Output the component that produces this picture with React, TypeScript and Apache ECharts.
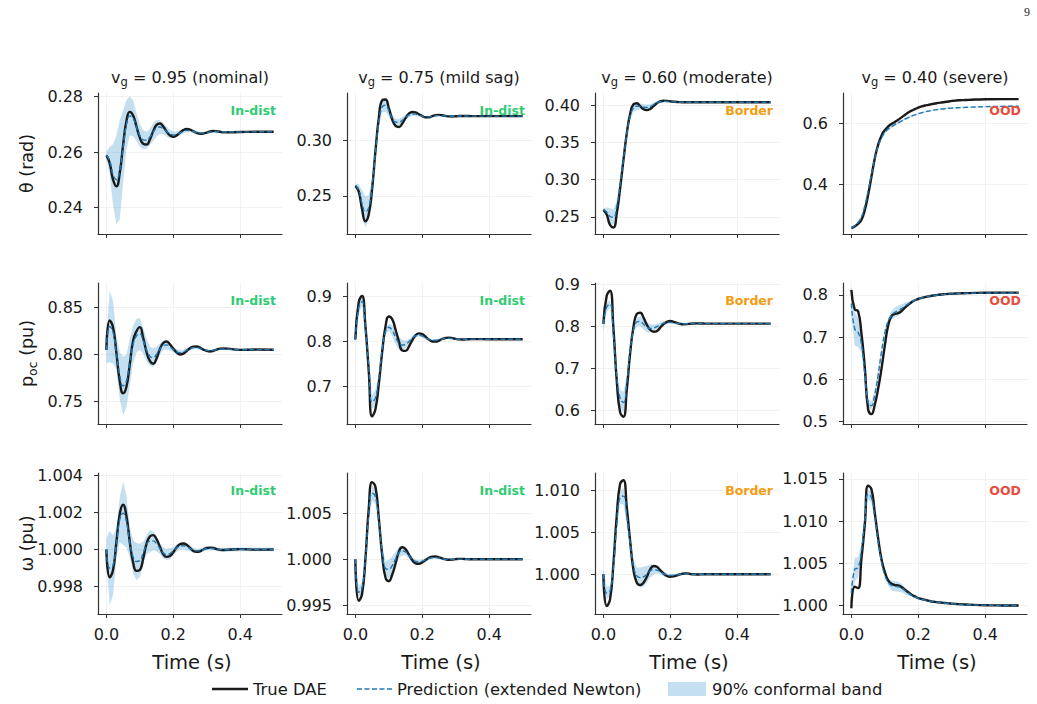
import React, { useEffect, useRef } from 'react';
import * as echarts from 'echarts';

// ---------------- data ----------------
const T = [0, 0.01, 0.02, 0.03, 0.04, 0.05, 0.06, 0.07, 0.08, 0.09, 0.10, 0.11, 0.12, 0.13, 0.14, 0.15, 0.16, 0.17, 0.18, 0.19, 0.20, 0.21, 0.22, 0.23, 0.24, 0.25, 0.26, 0.27, 0.28, 0.29, 0.30, 0.31, 0.32, 0.33, 0.34, 0.35, 0.40, 0.45, 0.50];

const X_TICKS = [0, 0.2, 0.4];
const SCENARIOS = ['0.95', '0.75', '0.60', '0.40'];
const SCENARIO_NAMES = ['nominal', 'mild sag', 'moderate', 'severe'];
const STATUS = ['In-dist', 'In-dist', 'Border', 'OOD'];
const STATUS_COLORS = ['#2ecc71', '#2ecc71', '#f39c12', '#e74c3c'];

// theta (rad)
const TH95_TRUE = [0.2588, 0.2560, 0.2500, 0.2476, 0.2525, 0.2625, 0.2712, 0.2745, 0.2732, 0.2692, 0.2652, 0.2630, 0.2627, 0.2645, 0.2675, 0.2698, 0.2703, 0.2692, 0.2674, 0.2660, 0.2655, 0.2660, 0.2670, 0.2679, 0.2683, 0.2681, 0.2675, 0.2669, 0.2666, 0.2667, 0.2670, 0.2674, 0.2676, 0.2675, 0.2673, 0.2671, 0.2672, 0.2673, 0.2673];
const TH95_PRED = [0.2588, 0.2568, 0.2518, 0.2500, 0.2535, 0.2620, 0.2698, 0.2730, 0.2722, 0.2690, 0.2660, 0.2644, 0.2643, 0.2654, 0.2672, 0.2686, 0.2690, 0.2684, 0.2674, 0.2665, 0.2662, 0.2664, 0.2669, 0.2675, 0.2678, 0.2677, 0.2674, 0.2670, 0.2668, 0.2668, 0.2670, 0.2672, 0.2674, 0.2674, 0.2673, 0.2672, 0.2672, 0.2673, 0.2673];
const TH95_HW = [0.0015, 0.005, 0.011, 0.016, 0.018, 0.013, 0.009, 0.007, 0.0065, 0.005, 0.004, 0.0035, 0.003, 0.003, 0.0032, 0.003, 0.0025, 0.002, 0.0018, 0.0015, 0.0012, 0.001, 0.0009, 0.0008, 0.0007, 0.0006, 0.0005, 0.0005, 0.0004, 0.0004, 0.0004, 0.0003, 0.0003, 0.0003, 0.0003, 0.0002, 0.0002, 0.0002, 0.0002];

const TH75_TRUE = [0.2590, 0.2540, 0.2380, 0.2270, 0.2330, 0.2560, 0.2900, 0.3200, 0.3360, 0.3368, 0.3290, 0.3190, 0.3130, 0.3120, 0.3150, 0.3200, 0.3240, 0.3256, 0.3252, 0.3236, 0.3218, 0.3207, 0.3208, 0.3218, 0.3227, 0.3230, 0.3226, 0.3220, 0.3216, 0.3215, 0.3217, 0.3219, 0.3220, 0.3220, 0.3219, 0.3218, 0.3218, 0.3218, 0.3218];
const TH75_PRED = [0.2590, 0.2555, 0.2430, 0.2355, 0.2395, 0.2590, 0.2890, 0.3165, 0.3300, 0.3318, 0.3268, 0.3200, 0.3165, 0.3162, 0.3180, 0.3208, 0.3228, 0.3237, 0.3236, 0.3228, 0.3218, 0.3212, 0.3212, 0.3217, 0.3222, 0.3224, 0.3222, 0.3219, 0.3217, 0.3217, 0.3218, 0.3219, 0.3219, 0.3219, 0.3218, 0.3218, 0.3218, 0.3218, 0.3218];
const TH75_HW = [0.002, 0.005, 0.012, 0.014, 0.011, 0.006, 0.004, 0.004, 0.005, 0.006, 0.005, 0.004, 0.003, 0.003, 0.003, 0.0025, 0.002, 0.0018, 0.0015, 0.0012, 0.001, 0.0008, 0.0007, 0.0006, 0.0005, 0.0005, 0.0004, 0.0004, 0.0003, 0.0003, 0.0003, 0.0003, 0.0003, 0.0002, 0.0002, 0.0002, 0.0002, 0.0002, 0.0002];

const TH60_TRUE = [0.2595, 0.2530, 0.2390, 0.2358, 0.2545, 0.2880, 0.3260, 0.3620, 0.3880, 0.4010, 0.4025, 0.3985, 0.3945, 0.3932, 0.3948, 0.3985, 0.4025, 0.4050, 0.4058, 0.4055, 0.4050, 0.4045, 0.4041, 0.4039, 0.4038, 0.4038, 0.4038, 0.4038, 0.4037, 0.4037, 0.4037, 0.4037, 0.4037, 0.4037, 0.4037, 0.4037, 0.4037, 0.4037, 0.4037];
const TH60_PRED = [0.2595, 0.2565, 0.2505, 0.2495, 0.2640, 0.2935, 0.3275, 0.3610, 0.3850, 0.3960, 0.3985, 0.3980, 0.3970, 0.3968, 0.3980, 0.4005, 0.4030, 0.4045, 0.4050, 0.4050, 0.4047, 0.4043, 0.4040, 0.4039, 0.4038, 0.4038, 0.4038, 0.4038, 0.4037, 0.4037, 0.4037, 0.4037, 0.4037, 0.4037, 0.4037, 0.4037, 0.4037, 0.4037, 0.4037];
const TH60_HW = [0.002, 0.006, 0.011, 0.010, 0.008, 0.006, 0.005, 0.005, 0.005, 0.005, 0.005, 0.004, 0.004, 0.004, 0.003, 0.003, 0.002, 0.002, 0.0015, 0.0012, 0.001, 0.0008, 0.0006, 0.0005, 0.0005, 0.0004, 0.0004, 0.0003, 0.0003, 0.0003, 0.0003, 0.0003, 0.0002, 0.0002, 0.0002, 0.0002, 0.0002, 0.0002, 0.0002];

const TH40_TRUE = [0.2560, 0.2620, 0.2700, 0.2830, 0.3150, 0.3650, 0.4250, 0.4850, 0.5300, 0.5600, 0.5780, 0.5900, 0.5980, 0.6050, 0.6120, 0.6200, 0.6280, 0.6360, 0.6420, 0.6470, 0.6520, 0.6560, 0.6590, 0.6610, 0.6635, 0.6655, 0.6675, 0.6690, 0.6705, 0.6720, 0.6740, 0.6750, 0.6760, 0.6765, 0.6770, 0.6775, 0.6795, 0.6800, 0.6800];
const TH40_PRED = [0.2560, 0.2640, 0.2750, 0.2920, 0.3280, 0.3780, 0.4330, 0.4850, 0.5250, 0.5520, 0.5700, 0.5810, 0.5890, 0.5960, 0.6020, 0.6080, 0.6140, 0.6190, 0.6240, 0.6280, 0.6320, 0.6350, 0.6380, 0.6405, 0.6425, 0.6445, 0.6460, 0.6475, 0.6487, 0.6497, 0.6505, 0.6512, 0.6518, 0.6523, 0.6528, 0.6532, 0.6552, 0.6562, 0.6567];
const TH40_HW = [0.002, 0.003, 0.005, 0.006, 0.007, 0.007, 0.006, 0.005, 0.005, 0.004, 0.004, 0.003, 0.003, 0.003, 0.003, 0.003, 0.003, 0.003, 0.003, 0.002, 0.002, 0.002, 0.002, 0.002, 0.002, 0.002, 0.002, 0.002, 0.002, 0.002, 0.002, 0.002, 0.002, 0.002, 0.002, 0.002, 0.002, 0.002, 0.002];

// p_oc (pu)
const P95_TRUE = [0.8050, 0.8365, 0.8290, 0.8020, 0.7720, 0.7590, 0.7660, 0.7900, 0.8150, 0.8250, 0.8294, 0.8180, 0.8030, 0.7935, 0.7904, 0.7960, 0.8060, 0.8125, 0.8140, 0.8110, 0.8065, 0.8025, 0.8003, 0.8012, 0.8040, 0.8070, 0.8085, 0.8088, 0.8075, 0.8055, 0.8040, 0.8035, 0.8042, 0.8055, 0.8065, 0.8068, 0.8052, 0.8055, 0.8053];
const P95_PRED = [0.8050, 0.8300, 0.8240, 0.8020, 0.7780, 0.7670, 0.7720, 0.7920, 0.8110, 0.8200, 0.8222, 0.8150, 0.8050, 0.7985, 0.7968, 0.8005, 0.8060, 0.8098, 0.8105, 0.8085, 0.8055, 0.8030, 0.8022, 0.8030, 0.8048, 0.8065, 0.8075, 0.8077, 0.8066, 0.8055, 0.8046, 0.8043, 0.8047, 0.8055, 0.8060, 0.8061, 0.8053, 0.8054, 0.8053];
const P95_HW = [0.014, 0.038, 0.033, 0.018, 0.025, 0.031, 0.028, 0.025, 0.020, 0.018, 0.017, 0.014, 0.012, 0.010, 0.010, 0.008, 0.006, 0.005, 0.005, 0.004, 0.003, 0.003, 0.003, 0.002, 0.002, 0.002, 0.002, 0.0015, 0.0015, 0.001, 0.001, 0.001, 0.001, 0.001, 0.001, 0.001, 0.0008, 0.0008, 0.0008];

const P75_TRUE = [0.8050, 0.8880, 0.9016, 0.8350, 0.7350, 0.6340, 0.6500, 0.7050, 0.7760, 0.8330, 0.8560, 0.8500, 0.8270, 0.8010, 0.7805, 0.7795, 0.7890, 0.8030, 0.8140, 0.8185, 0.8170, 0.8110, 0.8045, 0.8005, 0.8000, 0.8025, 0.8060, 0.8082, 0.8090, 0.8080, 0.8062, 0.8050, 0.8047, 0.8050, 0.8055, 0.8057, 0.8055, 0.8055, 0.8055];
const P75_PRED = [0.8050, 0.8750, 0.8890, 0.8300, 0.7450, 0.6660, 0.6750, 0.7180, 0.7800, 0.8220, 0.8320, 0.8250, 0.8100, 0.7970, 0.7925, 0.7940, 0.8000, 0.8080, 0.8130, 0.8145, 0.8125, 0.8085, 0.8050, 0.8030, 0.8031, 0.8045, 0.8062, 0.8072, 0.8074, 0.8068, 0.8060, 0.8055, 0.8053, 0.8054, 0.8056, 0.8056, 0.8055, 0.8055, 0.8055];
const P75_HW = [0.004, 0.012, 0.010, 0.006, 0.010, 0.015, 0.018, 0.012, 0.006, 0.006, 0.008, 0.012, 0.015, 0.015, 0.012, 0.008, 0.006, 0.005, 0.004, 0.003, 0.003, 0.003, 0.002, 0.002, 0.002, 0.002, 0.0015, 0.0015, 0.001, 0.001, 0.001, 0.001, 0.001, 0.001, 0.001, 0.001, 0.0008, 0.0008, 0.0008];

const P60_TRUE = [0.8050, 0.8720, 0.8840, 0.7950, 0.6700, 0.5950, 0.5840, 0.6480, 0.7350, 0.7980, 0.8290, 0.8317, 0.8200, 0.8030, 0.7910, 0.7865, 0.7880, 0.7960, 0.8045, 0.8100, 0.8118, 0.8100, 0.8072, 0.8050, 0.8042, 0.8046, 0.8055, 0.8060, 0.8062, 0.8060, 0.8058, 0.8057, 0.8057, 0.8057, 0.8057, 0.8057, 0.8057, 0.8057, 0.8057];
const P60_PRED = [0.8050, 0.8450, 0.8520, 0.7800, 0.6800, 0.6280, 0.6180, 0.6650, 0.7420, 0.7900, 0.8095, 0.8110, 0.8040, 0.7970, 0.7940, 0.7950, 0.7985, 0.8030, 0.8070, 0.8085, 0.8086, 0.8075, 0.8065, 0.8058, 0.8055, 0.8055, 0.8057, 0.8058, 0.8058, 0.8058, 0.8057, 0.8057, 0.8057, 0.8057, 0.8057, 0.8057, 0.8057, 0.8057, 0.8057];
const P60_HW = [0.020, 0.012, 0.008, 0.006, 0.010, 0.020, 0.025, 0.015, 0.008, 0.006, 0.010, 0.012, 0.012, 0.012, 0.010, 0.008, 0.006, 0.005, 0.004, 0.004, 0.003, 0.003, 0.002, 0.002, 0.002, 0.002, 0.0015, 0.0015, 0.001, 0.001, 0.001, 0.001, 0.001, 0.001, 0.001, 0.001, 0.001, 0.001, 0.001];

const P40_TRUE = [0.8120, 0.7660, 0.7620, 0.7100, 0.6300, 0.5300, 0.5180, 0.5400, 0.5780, 0.6250, 0.6800, 0.7280, 0.7500, 0.7550, 0.7570, 0.7620, 0.7700, 0.7770, 0.7830, 0.7875, 0.7905, 0.7930, 0.7950, 0.7968, 0.7982, 0.7995, 0.8005, 0.8013, 0.8020, 0.8026, 0.8031, 0.8035, 0.8038, 0.8041, 0.8043, 0.8045, 0.8052, 0.8055, 0.8056];
const P40_PRED = [0.7800, 0.7200, 0.7120, 0.6850, 0.6150, 0.5450, 0.5380, 0.5650, 0.6100, 0.6650, 0.7100, 0.7380, 0.7520, 0.7590, 0.7630, 0.7680, 0.7740, 0.7790, 0.7840, 0.7880, 0.7910, 0.7935, 0.7955, 0.7970, 0.7982, 0.7993, 0.8002, 0.8010, 0.8016, 0.8022, 0.8027, 0.8031, 0.8034, 0.8037, 0.8039, 0.8041, 0.8047, 0.8050, 0.8052];
const P40_HW = [0.030, 0.040, 0.035, 0.020, 0.012, 0.010, 0.010, 0.010, 0.010, 0.010, 0.008, 0.008, 0.010, 0.012, 0.012, 0.010, 0.007, 0.005, 0.004, 0.003, 0.003, 0.002, 0.002, 0.002, 0.002, 0.0015, 0.0015, 0.001, 0.001, 0.001, 0.001, 0.001, 0.001, 0.001, 0.001, 0.001, 0.001, 0.001, 0.001];

// omega (pu)
const W95_TRUE = [1.00000, 0.99850, 0.99890, 1.00040, 1.00190, 1.00240, 1.00180, 1.00040, 0.99930, 0.99885, 0.99890, 0.99950, 1.00030, 1.00070, 1.00077, 1.00055, 1.00015, 0.99975, 0.99960, 0.99965, 0.99985, 1.00010, 1.00028, 1.00032, 1.00025, 1.00008, 0.99992, 0.99987, 0.99990, 1.00000, 1.00008, 1.00010, 1.00008, 1.00002, 0.99998, 0.99997, 1.00002, 0.99999, 1.00000];
const W95_PRED = [1.00000, 0.99900, 0.99915, 1.00030, 1.00160, 1.00195, 1.00150, 1.00040, 0.99960, 0.99935, 0.99940, 0.99980, 1.00025, 1.00045, 1.00046, 1.00030, 1.00005, 0.99982, 0.99973, 0.99978, 0.99992, 1.00008, 1.00018, 1.00020, 1.00015, 1.00005, 0.99996, 0.99993, 0.99995, 1.00000, 1.00005, 1.00006, 1.00005, 1.00002, 0.99999, 0.99998, 1.00001, 1.00000, 1.00000];
const W95_HW = [0.0006, 0.0020, 0.0016, 0.0008, 0.0012, 0.0017, 0.0014, 0.0008, 0.0009, 0.0010, 0.0009, 0.0006, 0.0005, 0.0006, 0.0005, 0.0004, 0.0003, 0.0003, 0.0003, 0.0003, 0.0002, 0.0002, 0.0002, 0.0002, 0.0002, 0.00015, 0.00015, 0.0001, 0.0001, 0.0001, 0.0001, 0.0001, 0.0001, 0.0001, 0.0001, 0.0001, 0.0001, 0.0001, 0.0001];

const W75_TRUE = [1.00000, 0.99545, 0.99620, 1.00000, 1.00550, 1.00840, 1.00790, 1.00450, 1.00050, 0.99800, 0.99760, 0.99830, 0.99950, 1.00080, 1.00130, 1.00110, 1.00050, 0.99990, 0.99955, 0.99950, 0.99965, 0.99990, 1.00015, 1.00028, 1.00029, 1.00020, 1.00008, 0.99998, 0.99994, 0.99995, 1.00000, 1.00003, 1.00003, 1.00001, 1.00000, 1.00000, 1.00000, 1.00000, 1.00000];
const W75_PRED = [1.00000, 0.99640, 0.99690, 1.00000, 1.00480, 1.00720, 1.00680, 1.00420, 1.00080, 0.99900, 0.99890, 0.99930, 1.00000, 1.00070, 1.00090, 1.00080, 1.00040, 1.00000, 0.99975, 0.99970, 0.99978, 0.99992, 1.00008, 1.00016, 1.00017, 1.00012, 1.00005, 0.99999, 0.99997, 0.99998, 1.00000, 1.00001, 1.00001, 1.00000, 1.00000, 1.00000, 1.00000, 1.00000, 1.00000];
const W75_HW = [0.0002, 0.0006, 0.0006, 0.0004, 0.0006, 0.0008, 0.0008, 0.0006, 0.0006, 0.0008, 0.0010, 0.0010, 0.0008, 0.0006, 0.0005, 0.0004, 0.0003, 0.0003, 0.0002, 0.0002, 0.0002, 0.0002, 0.00015, 0.00015, 0.0001, 0.0001, 0.0001, 0.0001, 0.0001, 0.0001, 0.0001, 0.0001, 0.0001, 0.0001, 0.0001, 0.0001, 0.0001, 0.0001, 0.0001];

const W60_TRUE = [1.00000, 0.99620, 0.99700, 1.00120, 1.00700, 1.01080, 1.01125, 1.00800, 1.00400, 1.00050, 0.99900, 0.99872, 0.99900, 0.99970, 1.00060, 1.00100, 1.00090, 1.00050, 1.00010, 0.99980, 0.99971, 0.99975, 0.99988, 1.00000, 1.00010, 1.00011, 1.00004, 1.00000, 0.99998, 0.99999, 1.00000, 1.00000, 1.00000, 1.00000, 1.00000, 1.00000, 1.00000, 1.00000, 1.00000];
const W60_PRED = [1.00000, 0.99775, 0.99800, 1.00080, 1.00600, 1.00920, 1.00935, 1.00700, 1.00380, 1.00100, 0.99980, 0.99960, 0.99970, 1.00000, 1.00040, 1.00055, 1.00050, 1.00030, 1.00008, 0.99992, 0.99985, 0.99987, 0.99993, 1.00000, 1.00005, 1.00005, 1.00002, 1.00000, 0.99999, 1.00000, 1.00000, 1.00000, 1.00000, 1.00000, 1.00000, 1.00000, 1.00000, 1.00000, 1.00000];
const W60_HW = [0.0007, 0.0008, 0.0006, 0.0004, 0.0005, 0.0008, 0.0010, 0.0010, 0.0008, 0.0008, 0.0010, 0.0012, 0.0012, 0.0010, 0.0008, 0.0006, 0.0004, 0.0003, 0.0003, 0.0002, 0.0002, 0.0002, 0.00015, 0.00015, 0.0001, 0.0001, 0.0001, 0.0001, 0.0001, 0.0001, 0.0001, 0.0001, 0.0001, 0.0001, 0.0001, 0.0001, 0.0001, 0.0001, 0.0001];

const W40_TRUE = [0.99970, 1.00225, 1.00208, 1.00550, 1.00950, 1.01420, 1.01380, 1.01100, 1.00800, 1.00550, 1.00400, 1.00300, 1.00260, 1.00245, 1.00240, 1.00220, 1.00190, 1.00160, 1.00130, 1.00110, 1.00090, 1.00080, 1.00070, 1.00060, 1.00050, 1.00045, 1.00040, 1.00036, 1.00032, 1.00028, 1.00025, 1.00022, 1.00019, 1.00017, 1.00015, 1.00013, 1.00006, 1.00003, 1.00002];
const W40_PRED = [1.00150, 1.00430, 1.00450, 1.00650, 1.01000, 1.01320, 1.01280, 1.01050, 1.00760, 1.00520, 1.00360, 1.00280, 1.00240, 1.00230, 1.00225, 1.00210, 1.00180, 1.00150, 1.00125, 1.00105, 1.00088, 1.00077, 1.00067, 1.00058, 1.00050, 1.00044, 1.00039, 1.00034, 1.00030, 1.00027, 1.00024, 1.00021, 1.00018, 1.00016, 1.00014, 1.00012, 1.00006, 1.00003, 1.00002];
const W40_HW = [0.0008, 0.0014, 0.0012, 0.0008, 0.0006, 0.0006, 0.0006, 0.0005, 0.0004, 0.0003, 0.0003, 0.0004, 0.0006, 0.0006, 0.0006, 0.0005, 0.0004, 0.0003, 0.0002, 0.0002, 0.00015, 0.00015, 0.0001, 0.0001, 0.0001, 0.0001, 0.0001, 0.0001, 0.0001, 0.0001, 0.0001, 0.0001, 0.0001, 0.0001, 0.0001, 0.0001, 0.0001, 0.0001, 0.0001];

// y tick values per panel (row-major)
const Y_TICKS = [
  [0.24, 0.26, 0.28], [0.25, 0.30], [0.25, 0.30, 0.35, 0.40], [0.4, 0.6],
  [0.75, 0.80, 0.85], [0.7, 0.8, 0.9], [0.6, 0.7, 0.8, 0.9], [0.5, 0.6, 0.7, 0.8],
  [0.998, 1.000, 1.002, 1.004], [0.995, 1.000, 1.005], [1.000, 1.005, 1.010], [1.000, 1.005, 1.010, 1.015],
];
const Y_DECIMALS = [2, 2, 2, 1, 2, 1, 1, 1, 3, 3, 3, 3];

// ---------------- layout & style ----------------
const Y_RANGES = [
  [0.2304, 0.2813], [0.2155, 0.3427], [0.227, 0.4162], [0.237, 0.700],
  [0.7263, 0.8763], [0.617, 0.9304], [0.5667, 0.9024], [0.4945, 0.8284],
  [0.99653, 1.00411], [0.99402, 1.0094], [0.99525, 1.01212], [0.99902, 1.01571],
];
const COL_LEFT = [98, 347, 595, 843];
const ROW_TOP = [93, 283, 473];
const GRID_W = 184;
const GRID_H = 141;
const FONT = 'DejaVu Sans';
const TRUE_COLOR = '#1a1a1a';
const PRED_COLOR = '#1f77b4';
const BAND_COLOR = 'rgba(107,174,214,0.40)';
const AXIS_COLOR = '#333333';
const TEXT_COLOR = '#1a1a1a';

const PANEL_DATA = [
  [TH95_TRUE, TH95_PRED, TH95_HW], [TH75_TRUE, TH75_PRED, TH75_HW], [TH60_TRUE, TH60_PRED, TH60_HW], [TH40_TRUE, TH40_PRED, TH40_HW],
  [P95_TRUE, P95_PRED, P95_HW], [P75_TRUE, P75_PRED, P75_HW], [P60_TRUE, P60_PRED, P60_HW], [P40_TRUE, P40_PRED, P40_HW],
  [W95_TRUE, W95_PRED, W95_HW], [W75_TRUE, W75_PRED, W75_HW], [W60_TRUE, W60_PRED, W60_HW], [W40_TRUE, W40_PRED, W40_HW],
];

function buildOption() {
  const grid: any[] = [];
  const xAxis: any[] = [];
  const yAxis: any[] = [];
  const series: any[] = [];
  const graphic: any[] = [];

  for (let i = 0; i < 12; i++) {
    const r = Math.floor(i / 4);
    const c = i % 4;
    grid.push({ left: COL_LEFT[c], top: ROW_TOP[r], width: GRID_W, height: GRID_H, containLabel: false, outerBoundsMode: 'none' });
    const split = { show: true, lineStyle: { color: '#ededed', width: 0.8 } };
    xAxis.push({
      type: 'value', gridIndex: i, min: -0.025, max: 0.525,
      axisLine: { show: true, onZero: false, lineStyle: { color: AXIS_COLOR, width: 1.2 } },
      axisTick: { show: true, length: 4, customValues: X_TICKS, lineStyle: { color: AXIS_COLOR, width: 1 } },
      axisLabel: {
        show: r === 2, customValues: X_TICKS, margin: 12, fontSize: 16, fontFamily: FONT, color: TEXT_COLOR,
        formatter: (v: number) => v.toFixed(1),
      },
      splitLine: split,
    });
    const dec = Y_DECIMALS[i];
    yAxis.push({
      type: 'value', gridIndex: i, min: Y_RANGES[i][0], max: Y_RANGES[i][1],
      axisLine: { show: true, onZero: false, lineStyle: { color: AXIS_COLOR, width: 1.2 } },
      axisTick: { show: true, length: 4, customValues: Y_TICKS[i], lineStyle: { color: AXIS_COLOR, width: 1 } },
      axisLabel: {
        customValues: Y_TICKS[i], margin: 15, fontSize: 16, fontFamily: FONT, color: TEXT_COLOR,
        formatter: (v: number) => v.toFixed(dec),
      },
      splitLine: split,
    });

    const [tr, pr, hw] = PANEL_DATA[i];
    series.push({
      type: 'custom', xAxisIndex: i, yAxisIndex: i, silent: true, z: 1,
      data: [[T[0], pr[0]]],
      renderItem: (_params: any, api: any) => {
        const up = T.map((t, k) => api.coord([t, pr[k] + hw[k]]));
        const lo = T.map((t, k) => api.coord([t, pr[k] - hw[k]])).reverse();
        return { type: 'polygon', shape: { points: up.concat(lo) }, style: { fill: BAND_COLOR } };
      },
    });
    series.push({
      type: 'line', xAxisIndex: i, yAxisIndex: i, silent: true, z: 3,
      data: T.map((t, k) => [t, tr[k]]), symbol: 'none', smooth: 0.5,
      lineStyle: { color: TRUE_COLOR, width: 2.4 },
    });
    series.push({
      type: 'line', xAxisIndex: i, yAxisIndex: i, silent: true, z: 4,
      data: T.map((t, k) => [t, pr[k]]), symbol: 'none', smooth: 0.5,
      lineStyle: { color: PRED_COLOR, width: 1.4, type: [5, 2.5] },
    });

    graphic.push({
      type: 'text', x: COL_LEFT[c] + GRID_W - 6, y: ROW_TOP[r] + 17, z: 10,
      style: { text: STATUS[c], align: 'right', verticalAlign: 'middle', fill: STATUS_COLORS[c], fontSize: 12.5, fontWeight: 'bold', fontFamily: FONT },
    });
  }

  for (let c = 0; c < 4; c++) {
    graphic.push({
      type: 'text', x: COL_LEFT[c] + GRID_W / 2, y: 77,
      style: {
        text: `{a|v}{b|g}{a| = ${SCENARIOS[c]} (${SCENARIO_NAMES[c]})}`,
        align: 'center', verticalAlign: 'middle',
        rich: {
          a: { fontSize: 16, fontFamily: FONT, fill: TEXT_COLOR, lineHeight: 22 },
          b: { fontSize: 11.5, fontFamily: FONT, fill: TEXT_COLOR, lineHeight: 12, verticalAlign: 'bottom' },
        },
      },
    });
    graphic.push({
      type: 'text', x: COL_LEFT[c] + GRID_W / 2 + 2, y: 662,
      style: { text: 'Time (s)', align: 'center', verticalAlign: 'middle', fontSize: 19.5, fontFamily: FONT, fill: TEXT_COLOR },
    });
  }

  const rowLabels = ['{a|θ (rad)}', '{a|p}{b|oc}{a| (pu)}', '{a|ω (pu)}'];
  for (let r = 0; r < 3; r++) {
    graphic.push({
      type: 'text', x: 27, y: ROW_TOP[r] + GRID_H / 2, rotation: Math.PI / 2,
      style: {
        text: rowLabels[r], align: 'center', verticalAlign: 'middle',
        rich: {
          a: { fontSize: 17.5, fontFamily: FONT, fill: TEXT_COLOR, lineHeight: 24 },
          b: { fontSize: 12.5, fontFamily: FONT, fill: TEXT_COLOR, lineHeight: 13, verticalAlign: 'bottom' },
        },
      },
    });
  }

  const ly = 689;
  graphic.push(
    { type: 'line', shape: { x1: 212, y1: ly, x2: 248, y2: ly }, style: { stroke: TRUE_COLOR, lineWidth: 2.4 } },
    { type: 'text', x: 253, y: ly, style: { text: 'True DAE', verticalAlign: 'middle', fontSize: 16.4, fontFamily: FONT, fill: TEXT_COLOR } },
    { type: 'line', shape: { x1: 357, y1: ly, x2: 392, y2: ly }, style: { stroke: PRED_COLOR, lineWidth: 1.5, lineDash: [5, 2.5] } },
    { type: 'text', x: 397, y: ly, style: { text: 'Prediction (extended Newton)', verticalAlign: 'middle', fontSize: 16.4, fontFamily: FONT, fill: TEXT_COLOR } },
    { type: 'rect', shape: { x: 668, y: ly - 7, width: 38, height: 14 }, style: { fill: BAND_COLOR } },
    { type: 'text', x: 712, y: ly, style: { text: '90% conformal band', verticalAlign: 'middle', fontSize: 16.4, fontFamily: FONT, fill: TEXT_COLOR } },
  );

  graphic.push({ type: 'text', x: 1027, y: 12, style: { text: '9', align: 'center', verticalAlign: 'middle', fontSize: 12, fontFamily: 'Liberation Serif', fill: '#222' } });

  return { animation: false, backgroundColor: '#ffffff', grid, xAxis, yAxis, series, graphic };
}

export default function App() {
  const ref = useRef<HTMLDivElement>(null);
  useEffect(() => {
    const chart = echarts.init(ref.current as HTMLDivElement, null, { renderer: 'svg' });
    chart.setOption(buildOption() as any);
    return () => chart.dispose();
  }, []);
  return <div ref={ref} style={{ position: 'absolute', left: 0, top: 0, width: 1037, height: 704, background: '#fff' }} />;
}
